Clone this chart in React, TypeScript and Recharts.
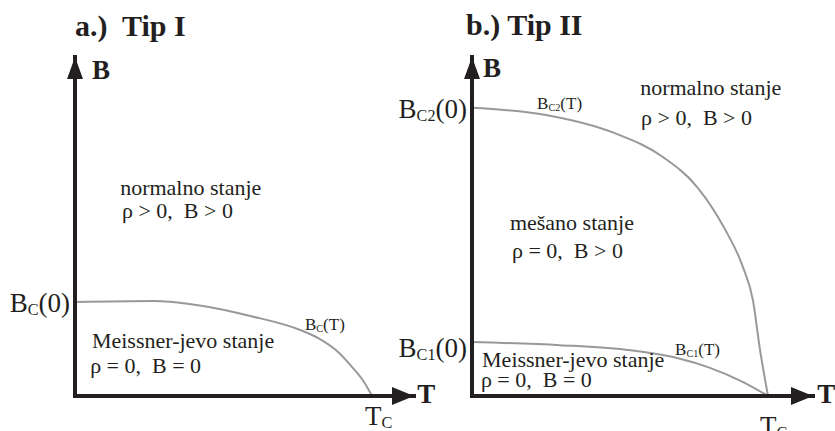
import { LineChart, Line, XAxis, YAxis, ReferenceDot } from "recharts";

const FONT = "Liberation Serif, Times New Roman, serif";
const INK = "#231f20";
const CURVE = "#999999";

// T in units of Tc, B as a fraction of the drawn B axis
const tipIT = [0, 0.26, 0.42, 0.59, 0.76, 0.82, 0.88, 0.93, 0.97, 1.0];
const tipIBc = [0.277, 0.28, 0.267, 0.236, 0.194, 0.17, 0.134, 0.088, 0.045, 0];

const tipIIT2 = [0, 0.25, 0.48, 0.645, 0.76, 0.85, 0.915, 0.949, 0.973, 1.0];
const tipIIBc2 = [0.85, 0.829, 0.776, 0.705, 0.617, 0.499, 0.381, 0.283, 0.136, 0];

const tipIIT1 = [0, 0.297, 0.524, 0.693, 0.804, 0.916, 1.0];
const tipIIBc1 = [0.159, 0.15, 0.136, 0.112, 0.083, 0.041, 0];

type Part = { s: string; sub?: boolean };
type Note = { t: number; b: number; parts: Part[]; size: number; bold?: boolean };
type Tick = { v: number; parts: Part[]; dy: number };

const txt = (s: string): Part[] => [{ s }];
const sub = (a: string, b: string, c: string): Part[] => [{ s: a }, { s: b, sub: true }, { s: c }];

const zip = (ts: number[], bs: number[]) => ts.map((t, i) => ({ t, b: bs[i] }));

function Rich({ x, y, parts, size, bold, anchor = "start" }: any) {
  const shift = Math.round(size * 0.12);
  let offset = 0;
  return (
    <text
      x={x}
      y={y}
      fill={INK}
      textAnchor={anchor}
      style={{
        whiteSpace: "pre",
        fontFamily: FONT,
        fontSize: size,
        fontWeight: bold ? "bold" : "normal",
      }}
    >
      {parts.map((p: Part, i: number) => {
        const dy = p.sub ? shift - offset : -offset;
        offset = p.sub ? shift : 0;
        return (
          <tspan key={i} dy={dy} style={p.sub ? { fontSize: size * 0.6 } : undefined}>
            {p.s}
          </tspan>
        );
      })}
    </text>
  );
}

const upArrow = (p: any) => (
  <polygon points={`${p.cx},${p.cy} ${p.cx - 8},${p.cy + 22} ${p.cx + 8},${p.cy + 22}`} fill={INK} />
);
const rightArrow = (p: any) => (
  <polygon points={`${p.cx},${p.cy} ${p.cx - 22},${p.cy - 9} ${p.cx - 22},${p.cy + 9}`} fill={INK} />
);

interface PanelProps {
  left: number;
  width: number;
  axisWidth: number;
  right: number;
  xMax: number;
  curves: { t: number; b: number }[][];
  yTicks: Tick[];
  tcDx: number;
  tcDy: number;
  notes: Note[];
}

function Panel({ left, width, axisWidth, right, xMax, curves, yTicks, tcDx, tcDy, notes }: PanelProps) {
  const renderY = ({ x, y, payload }: any) => {
    const tk = yTicks.find((k) => k.v === payload.value);
    if (!tk) return null;
    return <Rich x={x} y={y + tk.dy} parts={tk.parts} size={27} anchor="end" />;
  };
  const renderX = ({ x, y }: any) => <Rich x={x + tcDx} y={y + tcDy} parts={sub("T", "C", "")} size={27} />;

  return (
    <div style={{ position: "absolute", left, top: 0 }}>
      <LineChart width={width} height={431} margin={{ top: 57, right, bottom: 0, left: 0 }}>
        <XAxis
          type="number"
          dataKey="t"
          domain={[0, xMax]}
          allowDataOverflow
          ticks={[1]}
          interval={0}
          height={35}
          tickSize={0}
          tickMargin={0}
          tickLine={false}
          tick={renderX}
          axisLine={{ stroke: INK, strokeWidth: 4, strokeLinecap: "square" }}
        />
        <YAxis
          type="number"
          dataKey="b"
          domain={[0, 1]}
          allowDataOverflow
          ticks={yTicks.map((k) => k.v)}
          interval={0}
          width={axisWidth}
          tickSize={0}
          tickMargin={5}
          tickLine={false}
          tick={renderY}
          axisLine={{ stroke: INK, strokeWidth: 4, strokeLinecap: "square" }}
        />
        {curves.map((c, i) => (
          <Line
            key={i}
            data={c}
            dataKey="b"
            type="monotone"
            stroke={CURVE}
            strokeWidth={2}
            dot={false}
            activeDot={false}
            isAnimationActive={false}
          />
        ))}
        <ReferenceDot x={0} y={1} ifOverflow="visible" shape={upArrow} />
        <ReferenceDot x={xMax} y={0} ifOverflow="visible" shape={rightArrow} />
        {notes.map((n, i) => (
          <ReferenceDot
            key={`n${i}`}
            x={n.t}
            y={n.b}
            ifOverflow="visible"
            shape={(p: any) => <Rich x={p.cx} y={p.cy} parts={n.parts} size={n.size} bold={n.bold} />}
          />
        ))}
      </LineChart>
    </div>
  );
}

const notesI: Note[] = [
  { t: 0, b: 1.062, parts: txt("a.)  Tip I"), size: 30, bold: true },
  { t: 0.057, b: 0.935, parts: txt("B"), size: 27, bold: true },
  { t: 0.152, b: 0.593, parts: txt("normalno stanje"), size: 22 },
  { t: 0.158, b: 0.525, parts: txt("ρ > 0,  B > 0"), size: 22 },
  { t: 0.774, b: 0.195, parts: sub("B", "C", "(T)"), size: 17 },
  { t: 0.057, b: 0.142, parts: txt("Meissner-jevo stanje"), size: 22 },
  { t: 0.051, b: 0.068, parts: txt("ρ = 0,  B = 0"), size: 22 },
  { t: 1.152, b: -0.021, parts: txt("T"), size: 27, bold: true },
];

const notesII: Note[] = [
  { t: -0.02, b: 1.065, parts: txt("b.) Tip II"), size: 30, bold: true },
  { t: 0.037, b: 0.941, parts: txt("B"), size: 27, bold: true },
  { t: 0.568, b: 0.888, parts: txt("normalno stanje"), size: 22 },
  { t: 0.571, b: 0.799, parts: txt("ρ > 0,  B > 0"), size: 22 },
  { t: 0.22, b: 0.847, parts: sub("B", "C2", "(T)"), size: 17 },
  { t: 0.128, b: 0.49, parts: txt("mešano stanje"), size: 22 },
  { t: 0.135, b: 0.407, parts: txt("ρ = 0,  B > 0"), size: 22 },
  { t: 0.686, b: 0.121, parts: sub("B", "C1", "(T)"), size: 17 },
  { t: 0.034, b: 0.086, parts: txt("Meissner-jevo stanje"), size: 22 },
  { t: 0.03, b: 0.027, parts: txt("ρ = 0,  B = 0"), size: 22 },
  { t: 1.166, b: -0.021, parts: txt("T"), size: 27, bold: true },
];

export default function App() {
  return (
    <div style={{ position: "fixed", left: 0, top: 0, width: 835, height: 431, background: "#fff" }}>
      <Panel
        left={0}
        width={440}
        axisWidth={75}
        right={26}
        xMax={1.141}
        curves={[zip(tipIT, tipIBc)]}
        yTicks={[{ v: tipIBc[0], parts: sub("B", "C", "(0)"), dy: 10 }]}
        tcDx={-7}
        tcDy={29}
        notes={notesI}
      />
      <Panel
        left={380}
        width={455}
        axisWidth={92}
        right={22}
        xMax={1.152}
        curves={[zip(tipIIT2, tipIIBc2), zip(tipIIT1, tipIIBc1)]}
        yTicks={[
          { v: tipIIBc2[0], parts: sub("B", "C2", "(0)"), dy: 10 },
          { v: tipIIBc1[0], parts: sub("B", "C1", "(0)"), dy: 15 },
        ]}
        tcDx={-8}
        tcDy={39}
        notes={notesII}
      />
    </div>
  );
}
